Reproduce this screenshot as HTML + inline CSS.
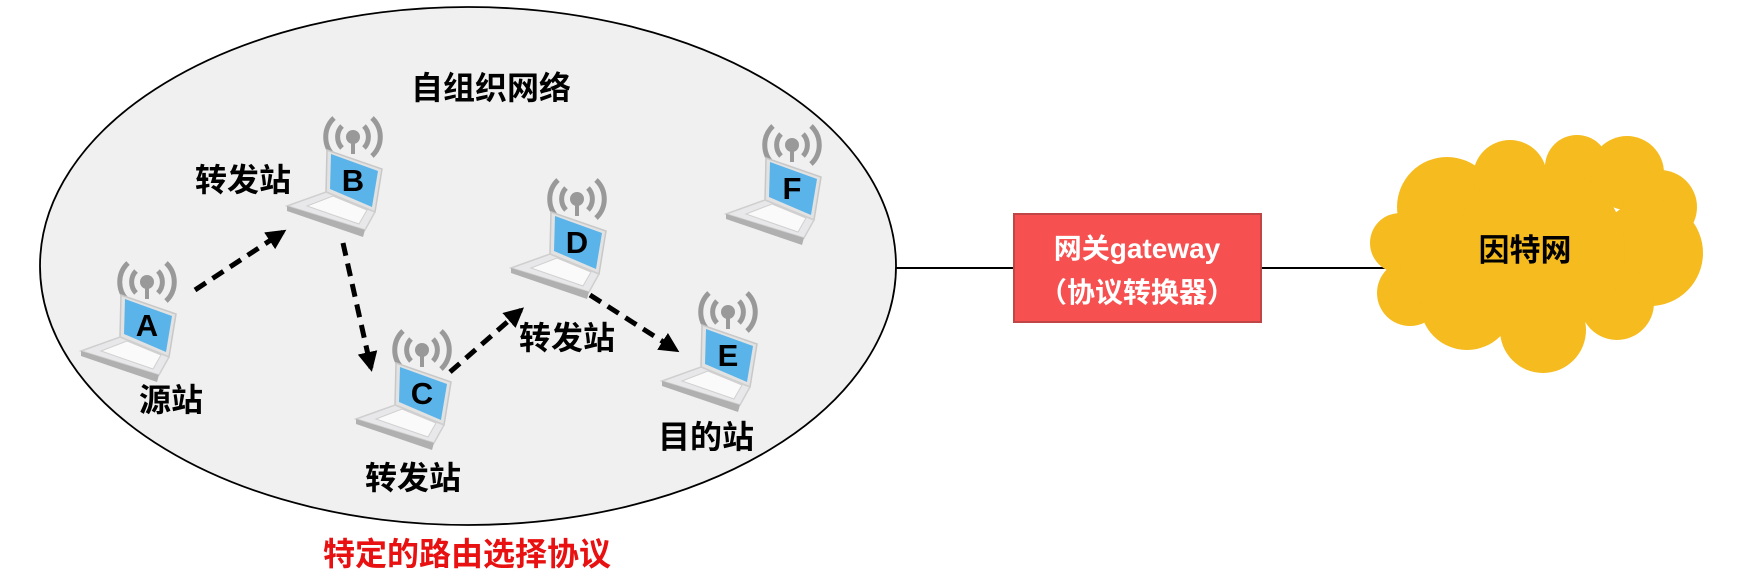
<!DOCTYPE html>
<html><head><meta charset="utf-8"><style>
html,body{margin:0;padding:0;background:#fff;}
svg{display:block;}
text{font-family:"Liberation Sans","Noto Sans CJK SC",sans-serif;font-weight:bold;}
</style></head><body>
<svg width="1738" height="578" viewBox="0 0 1738 578" xmlns="http://www.w3.org/2000/svg">
<defs>
<marker id="ah" viewBox="0 0 10 10" refX="8" refY="5" markerWidth="4" markerHeight="4" orient="auto">
<path d="M0,0 L10,5 L0,10 z" fill="#000"/></marker>
<g id="lap">
 <g fill="none" stroke="#999" stroke-width="5">
  <path d="M-11,-54 A16,16 0 0 0 -11,-32"/><path d="M11,-54 A16,16 0 0 1 11,-32"/>
  <path d="M-19,-62 A26,26 0 0 0 -19,-24"/><path d="M19,-62 A26,26 0 0 1 19,-24"/>
 </g>
 <circle cx="0" cy="-43" r="7" fill="#999"/>
 <rect x="-2" y="-42" width="4" height="16" fill="#999"/>
 <path d="M-26,-30 L29,-11 L22,32 L-27,12 Z" fill="#e2e2e2" stroke="#c8c8c8" stroke-width="1.5"/>
 <path d="M-22,-26 L25,-9 L19,27 L-23,9 Z" fill="#5ab4ea"/>
 <path d="M-27,12 L22,32 L12,50 L-66,26 Z" fill="#e8e8ea" stroke="#cfcfcf" stroke-width="1.5"/>
 <path d="M-20,16 L14,30 L6,44 L-46,26 Z" fill="#fafafa" stroke="#d0d0d0"/>
 <path d="M-66,26 L12,50 L10,57 L-66,31 Z" fill="#b0b0b0"/>
</g>
</defs>
<ellipse cx="468" cy="266" rx="428" ry="259" fill="#f0f0f0" stroke="#000" stroke-width="1.8"/>
<line x1="896" y1="268" x2="1014" y2="268" stroke="#000" stroke-width="2"/>
<line x1="1261" y1="268" x2="1390" y2="268" stroke="#000" stroke-width="2"/>
<rect x="1014" y="214" width="247" height="108" fill="#f75050" stroke="#c04545" stroke-width="2"/>
<text x="1137" y="258" text-anchor="middle" font-size="28" fill="#fff">网关gateway</text>
<text x="1137" y="302" text-anchor="middle" font-size="28" fill="#fff">（协议转换器）</text>
<g fill="#f5bb1f">
<circle cx="1410" cy="293" r="33"/><circle cx="1400" cy="243" r="30"/><circle cx="1447" cy="207" r="50"/>
<circle cx="1510" cy="177" r="37"/><circle cx="1577" cy="167" r="32"/><circle cx="1627" cy="173" r="37"/>
<circle cx="1660" cy="207" r="37"/><circle cx="1650" cy="253" r="53"/><circle cx="1617" cy="303" r="37"/>
<circle cx="1543" cy="330" r="43"/><circle cx="1467" cy="303" r="47"/><circle cx="1540" cy="250" r="85"/>
<circle cx="1440" cy="265" r="40"/>
</g>
<text x="1525" y="261" text-anchor="middle" font-size="31" fill="#000">因特网</text>
<g stroke="#000" stroke-width="5" stroke-dasharray="13,8" fill="none" marker-end="url(#ah)">
<line x1="195" y1="290" x2="283" y2="232"/>
<line x1="343" y1="243" x2="371" y2="368"/>
<line x1="450" y1="372" x2="521" y2="310"/>
<line x1="590" y1="295" x2="676" y2="350"/>
</g>
<use href="#lap" x="147" y="325"/>
<use href="#lap" x="353" y="180"/>
<use href="#lap" x="422" y="393"/>
<use href="#lap" x="577" y="242"/>
<use href="#lap" x="728" y="355"/>
<use href="#lap" x="792" y="188"/>
<g font-size="31" fill="#000" text-anchor="middle">
<text x="147" y="336">A</text><text x="353" y="191">B</text><text x="422" y="404">C</text>
<text x="577" y="253">D</text><text x="728" y="366">E</text><text x="792" y="199">F</text>
</g>
<g font-size="32" fill="#000" text-anchor="middle">
<text x="491" y="99">自组织网络</text>
<text x="243" y="191">转发站</text>
<text x="171" y="411">源站</text>
<text x="413" y="489">转发站</text>
<text x="567" y="349">转发站</text>
<text x="706" y="448">目的站</text>
</g>
<text x="467" y="565" text-anchor="middle" font-size="32" fill="#e81010">特定的路由选择协议</text>
</svg>
</body></html>
